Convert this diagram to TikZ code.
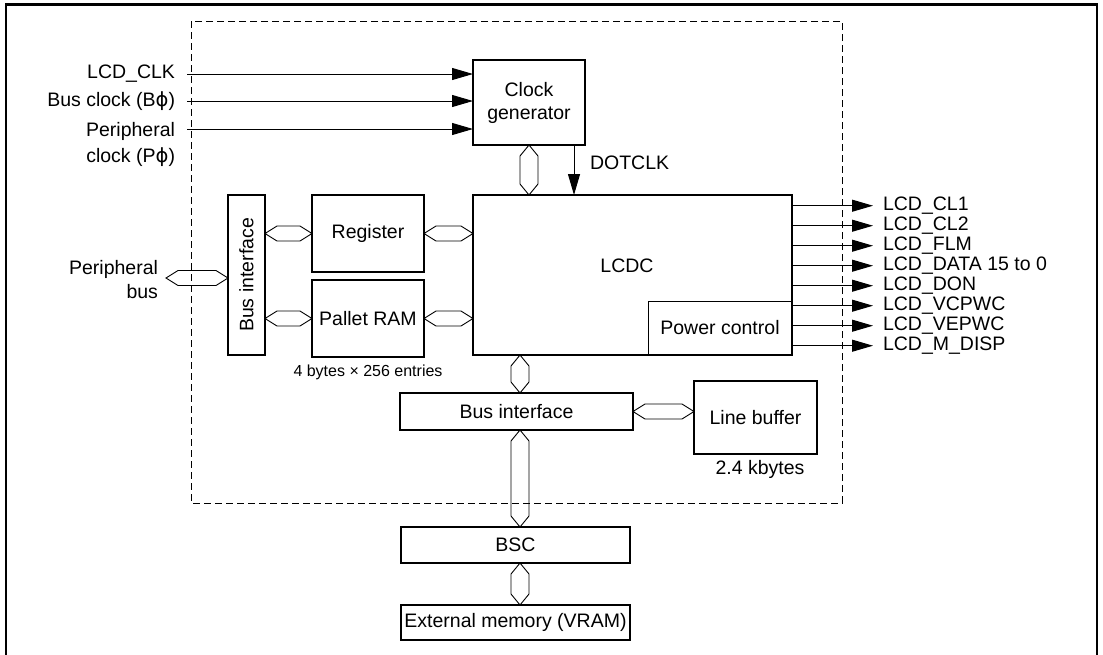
\documentclass[tikz,border=0pt]{standalone}
\usepackage{fontspec}
\setmainfont{Liberation Sans}
\newfontfamily\dejavu{DejaVu Sans}
\usetikzlibrary{arrows.meta,calc}
\newcommand\hbus[2]{\draw[bus] (#1) -- ($(#1)+(12,7.5)$) -- ($(#2)+(-12,7.5)$) -- (#2) -- ($(#2)+(-12,-7.5)$) -- ($(#1)+(12,-7.5)$) -- cycle;}
\newcommand\vbus[2]{\draw[bus] (#1) -- ($(#1)+(9,11)$) -- ($(#2)+(9,-11)$) -- (#2) -- ($(#2)+(-9,-11)$) -- ($(#1)+(-9,11)$) -- cycle;}
\begin{document}
\begin{tikzpicture}[x=1pt,y=-1pt,
  every node/.style={font=\fontsize{19.5}{23}\selectfont},
  box/.style={draw,line width=2pt,inner sep=0,outer sep=0,align=center},
  thinbox/.style={draw,line width=1pt,inner sep=0,outer sep=0,align=center},
  bus/.style={draw,line width=0.9pt,line join=miter},
  arr/.style={line width=1pt,-{Triangle[length=21pt,width=12pt]}},
  lbl/.style={inner sep=0,outer sep=0,align=center}]
\useasboundingbox (0,0) rectangle (1103,654);
% outer frame
\draw[line width=2.5pt] (6,660) -- (6,4.5) -- (1097,4.5) -- (1097,660);
% module boundary
\draw[line width=1pt,dash pattern=on 7pt off 4pt] (191,21) rectangle (842,503);

% blocks
\node[box,minimum width=112,minimum height=85] (clk) at (529,102.5) {Clock\\generator};
\node[box,rotate=90,minimum width=160,minimum height=37] (bifv) at (246.5,275) {Bus interface};
\node[box,minimum width=112,minimum height=77] (reg) at (368,233.5) {Register};
\node[box,minimum width=112,minimum height=77] (pal) at (368,318.5) {Pallet RAM};
\node[box,minimum width=319,minimum height=160] (lcdc) at (632.5,275) {};
\node[lbl] (lcdctext) at (627,266) {LCDC};
\node[thinbox,minimum width=144,minimum height=54,anchor=south east] (pwr) at (lcdc.south east) {Power control};
\node[box,minimum width=233,minimum height=37] (bifh) at (516.5,411.5) {Bus interface};
\node[box,minimum width=123,minimum height=73] (lbuf) at (755.5,417.5) {Line buffer};
\node[box,minimum width=229,minimum height=36] (bsc) at (515.5,545) {BSC};
\node[box,minimum width=229,minimum height=35] (ext) at (515.5,622.5) {External memory (VRAM)};

% notes
\node[lbl,font=\fontsize{16}{18}\selectfont] (palnote) at (368,372) {4 bytes × 256 entries};
\node[lbl] (lbufnote) at (760,469) {2.4 kbytes};

% clock inputs
\node[lbl,anchor=east] (in1) at (175,74) {LCD\_CLK};
\node[lbl,anchor=east] (in2) at (175,101) {Bus clock (B{\dejavu ϕ})};
\node[lbl,anchor=east,align=right,font=\fontsize{19.5}{26}\selectfont] (in3) at (175,144) {Peripheral\\clock (P{\dejavu ϕ})};
\coordinate (in1a) at (187,74);
\coordinate (in2a) at (187,101);
\coordinate (in3a) at (187,129);
\draw[arr] (in1a) -- (in1a -| clk.west);
\draw[arr] (in2a) -- (in2a -| clk.west);
\draw[arr] (in3a) -- (in3a -| clk.west);

% DOTCLK
\coordinate (dk) at ($(clk.south east)+(-11,0)$);
\draw[arr] (dk) -- (dk |- lcdc.north);
\node[lbl,anchor=west] (dotclk) at (590,163) {DOTCLK};

% outputs
\foreach \t [count=\i] in {LCD\_CL1,LCD\_CL2,LCD\_FLM,LCD\_DATA 15 to 0,LCD\_DON,LCD\_VCPWC,LCD\_VEPWC,LCD\_M\_DISP}{
  \node[lbl,anchor=west] (o\i) at (883,{185.7+20*\i}) {\t};
  \draw[arr] (o\i.west -| lcdc.east) -- ($(o\i.west)+(-10,0)$);
}

% peripheral bus
\node[lbl,anchor=east,align=right,font=\fontsize{19.5}{24}\selectfont] (pbus) at (158,280) {Peripheral\\bus};
\coordinate (pb) at (166,278);
\coordinate (pbe) at (pb -| bifv.north);
\hbus{pb}{pbe}

% internal buses
\coordinate (r1) at (reg.west -| bifv.south);
\hbus{r1}{reg.west}
\coordinate (p1) at (pal.west -| bifv.south);
\hbus{p1}{pal.west}
\coordinate (r2) at (reg.east -| lcdc.west);
\hbus{reg.east}{r2}
\coordinate (p2) at (pal.east -| lcdc.west);
\hbus{pal.east}{p2}
\coordinate (l1) at (lbuf.west |- bifh.east);
\hbus{bifh.east}{l1}

\coordinate (busx) at (520,0);
\coordinate (c1) at (clk.south |- lcdc.north);
\vbus{clk.south}{c1}
\coordinate (b1) at (busx |- lcdc.south);
\coordinate (b2) at (busx |- bifh.north);
\vbus{b1}{b2}
\coordinate (b3) at (busx |- bifh.south);
\coordinate (b4) at (busx |- bsc.north);
\vbus{b3}{b4}
\coordinate (b5) at (busx |- bsc.south);
\coordinate (b6) at (busx |- ext.north);
\vbus{b5}{b6}
\end{tikzpicture}
\end{document}
